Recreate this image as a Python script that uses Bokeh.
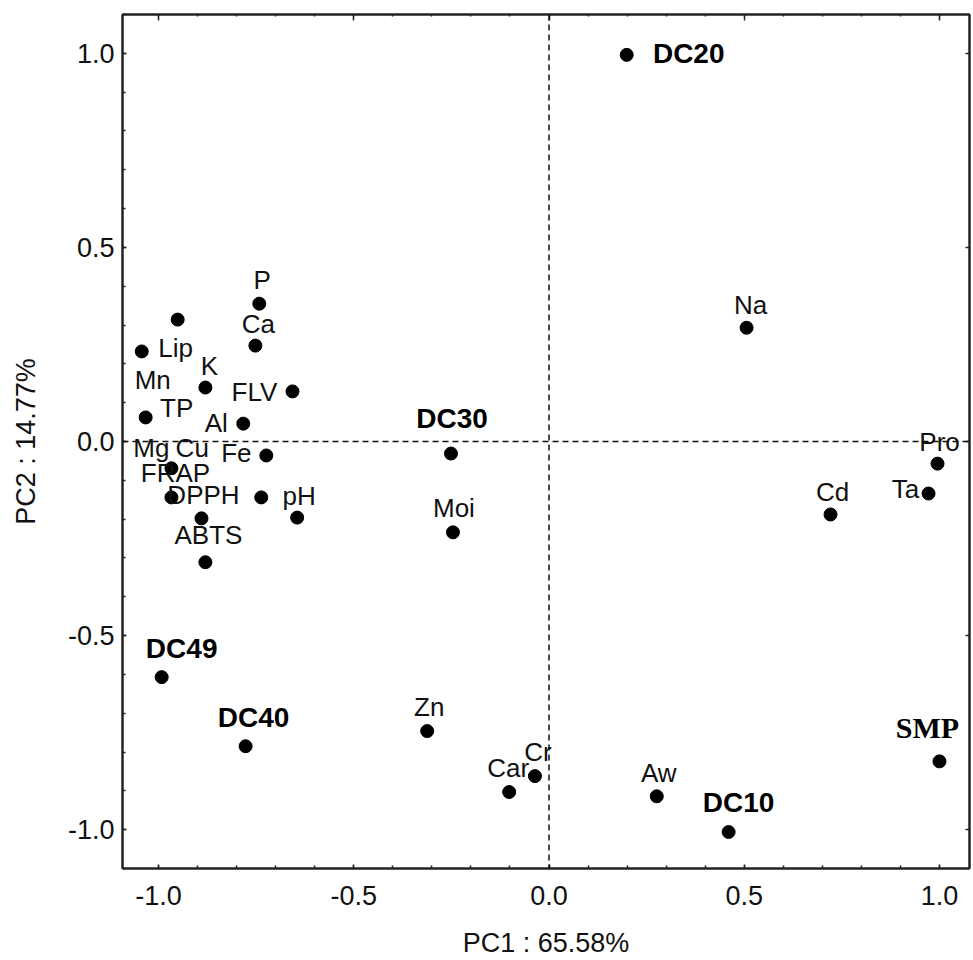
from bokeh.plotting import figure
from bokeh.models import (Range1d, LinearAxis, SingleIntervalTicker,
                          PrintfTickFormatter, Span, ColumnDataSource)
from bokeh.core.properties import value
from bokeh.embed import file_html
from bokeh.resources import INLINE

# ---------------- data ----------------
var_names = ["P", "Ca", "Lip", "Mn", "K", "FLV", "TP", "Al", "Fe", "Mg", "Cu",
             "FRAP", "DPPH", "pH", "ABTS", "Na", "Pro", "Ta", "Cd", "Moi",
             "Zn", "Car", "Cr", "Aw"]
var_pc1 = [-0.742, -0.752, -0.951, -1.043, -0.880, -0.657, -1.033, -0.783,
           -0.724, -0.967, -0.737, -0.967, -0.890, -0.645, -0.880, 0.506,
           0.995, 0.972, 0.721, -0.246, -0.312, -0.102, -0.036, 0.276]
var_pc2 = [0.355, 0.247, 0.314, 0.232, 0.139, 0.129, 0.062, 0.046,
           -0.036, -0.069, -0.144, -0.144, -0.198, -0.196, -0.311, 0.293,
           -0.057, -0.134, -0.188, -0.234, -0.746, -0.903, -0.862, -0.914]

sample_names = ["DC20", "DC30", "DC49", "DC40", "DC10"]
sample_pc1 = [0.199, -0.251, -0.992, -0.777, 0.460]
sample_pc2 = [0.996, -0.031, -0.607, -0.785, -1.006]

smp_name = ["SMP"]
smp_pc1 = [1.0]
smp_pc2 = [-0.824]

x_title = "PC1 : 65.58%"
y_title = "PC2 : 14.77%"

# ---------------- label placement (screen px offsets, styling) ----------------
var_dx = [3, 3, -2, 11, 4, -38, 31, -27, -30, -20, -69, 4, 2, 2, 3, 4, 2, -23, 2, 1, 2, -1, 3, 2]
var_dy = [-24, -22, 28, 29, -22, 1, -9, -1, -2, -20, -49, -24, -23, -22, -27, -23, -22, -5, -22, -24, -24, -24, -24, -23]
sample_dx = [62, 1, 20, 8, 10]
sample_dy = [-1, -35, -29, -29, -30]
smp_dx = [-12]
smp_dy = [-34]

# ---------------- figure ----------------
p = figure(width=973, height=960,
           x_range=Range1d(-1.0923, 1.0769), y_range=Range1d(-1.1, 1.1),
           output_backend="svg", toolbar_location=None,
           min_border_left=122, min_border_right=0,
           min_border_top=14, min_border_bottom=92,
           x_axis_label=x_title, y_axis_label=y_title)

p.xgrid.visible = False
p.ygrid.visible = False
p.outline_line_color = "#222222"
p.outline_line_width = 2
p.background_fill_color = "white"
p.border_fill_color = "white"

font = value("Liberation Sans")

for ax in (p.xaxis[0], p.yaxis[0]):
    ax.ticker = SingleIntervalTicker(interval=0.5, num_minor_ticks=5)
    ax.formatter = PrintfTickFormatter(format="%.1f")
    ax.major_tick_in = 4
    ax.major_tick_out = 0
    ax.minor_tick_in = 3
    ax.minor_tick_out = 0
    ax.major_tick_line_color = "#222222"
    ax.minor_tick_line_color = "#222222"
    ax.major_tick_line_width = 1.5
    ax.minor_tick_line_width = 1.5
    ax.axis_line_color = "#222222"
    ax.axis_line_width = 2
    ax.major_label_text_font = "Liberation Sans"
    ax.major_label_text_font_size = "27px"
    ax.major_label_text_color = "#111111"
    ax.axis_label_text_font = "Liberation Sans"
    ax.axis_label_text_font_size = "27px"
    ax.axis_label_text_font_style = "normal"
    ax.axis_label_text_color = "#111111"

p.xaxis[0].major_label_standoff = 17
p.xaxis[0].axis_label_standoff = 20
p.yaxis[0].major_label_standoff = 8
p.yaxis[0].axis_label_standoff = 24

# right and top axes: ticks only (labels not painted)
right_ax = LinearAxis(ticker=SingleIntervalTicker(interval=0.5, num_minor_ticks=5),
                      major_label_text_font_size="1px", major_label_standoff=0,
                      major_label_text_color=None,
                      major_tick_in=4, major_tick_out=0,
                      minor_tick_line_color=None,
                      major_tick_line_color="#222222", major_tick_line_width=1.5,
                      axis_line_color="#222222", axis_line_width=2)
top_ax = LinearAxis(ticker=SingleIntervalTicker(interval=0.5, num_minor_ticks=5),
                    major_label_text_font_size="1px", major_label_standoff=0,
                    major_label_text_color=None,
                    major_tick_in=6, major_tick_out=0,
                    minor_tick_in=2, minor_tick_out=0,
                    major_tick_line_color="#222222", major_tick_line_width=1.5,
                    minor_tick_line_color="#222222", minor_tick_line_width=1.5,
                    axis_line_color="#222222", axis_line_width=2)
p.add_layout(right_ax, "right")
p.add_layout(top_ax, "above")

# dashed reference lines through origin
p.add_layout(Span(location=0, dimension="height", line_color="#111111",
                  line_width=1.5, line_dash="6 4"))
p.add_layout(Span(location=0, dimension="width", line_color="#111111",
                  line_width=1.5, line_dash="6 4"))

# points
var_src = ColumnDataSource(dict(x=var_pc1, y=var_pc2, name=var_names, dx=var_dx, dy=var_dy))
smp_src = ColumnDataSource(dict(x=sample_pc1, y=sample_pc2, name=sample_names, dx=sample_dx, dy=sample_dy))
smp2_src = ColumnDataSource(dict(x=smp_pc1, y=smp_pc2, name=smp_name, dx=smp_dx, dy=smp_dy))

for src in (var_src, smp_src, smp2_src):
    p.scatter("x", "y", source=src, size=13, fill_color="black", line_color="black")

p.text("x", "y", text="name", source=var_src, x_offset="dx", y_offset="dy",
       text_align="center", text_baseline="middle", text_font=font,
       text_font_size="26px", text_color="#111111")
p.text("x", "y", text="name", source=smp_src, x_offset="dx", y_offset="dy",
       text_align="center", text_baseline="middle", text_font=font,
       text_font_size="28px", text_font_style="bold", text_color="black")
p.text("x", "y", text="name", source=smp2_src, x_offset="dx", y_offset="dy",
       text_align="center", text_baseline="middle", text_font=value("Liberation Serif"),
       text_font_size="30px", text_font_style="bold", text_color="black")

open("out.html", "w").write(file_html(p, INLINE))
